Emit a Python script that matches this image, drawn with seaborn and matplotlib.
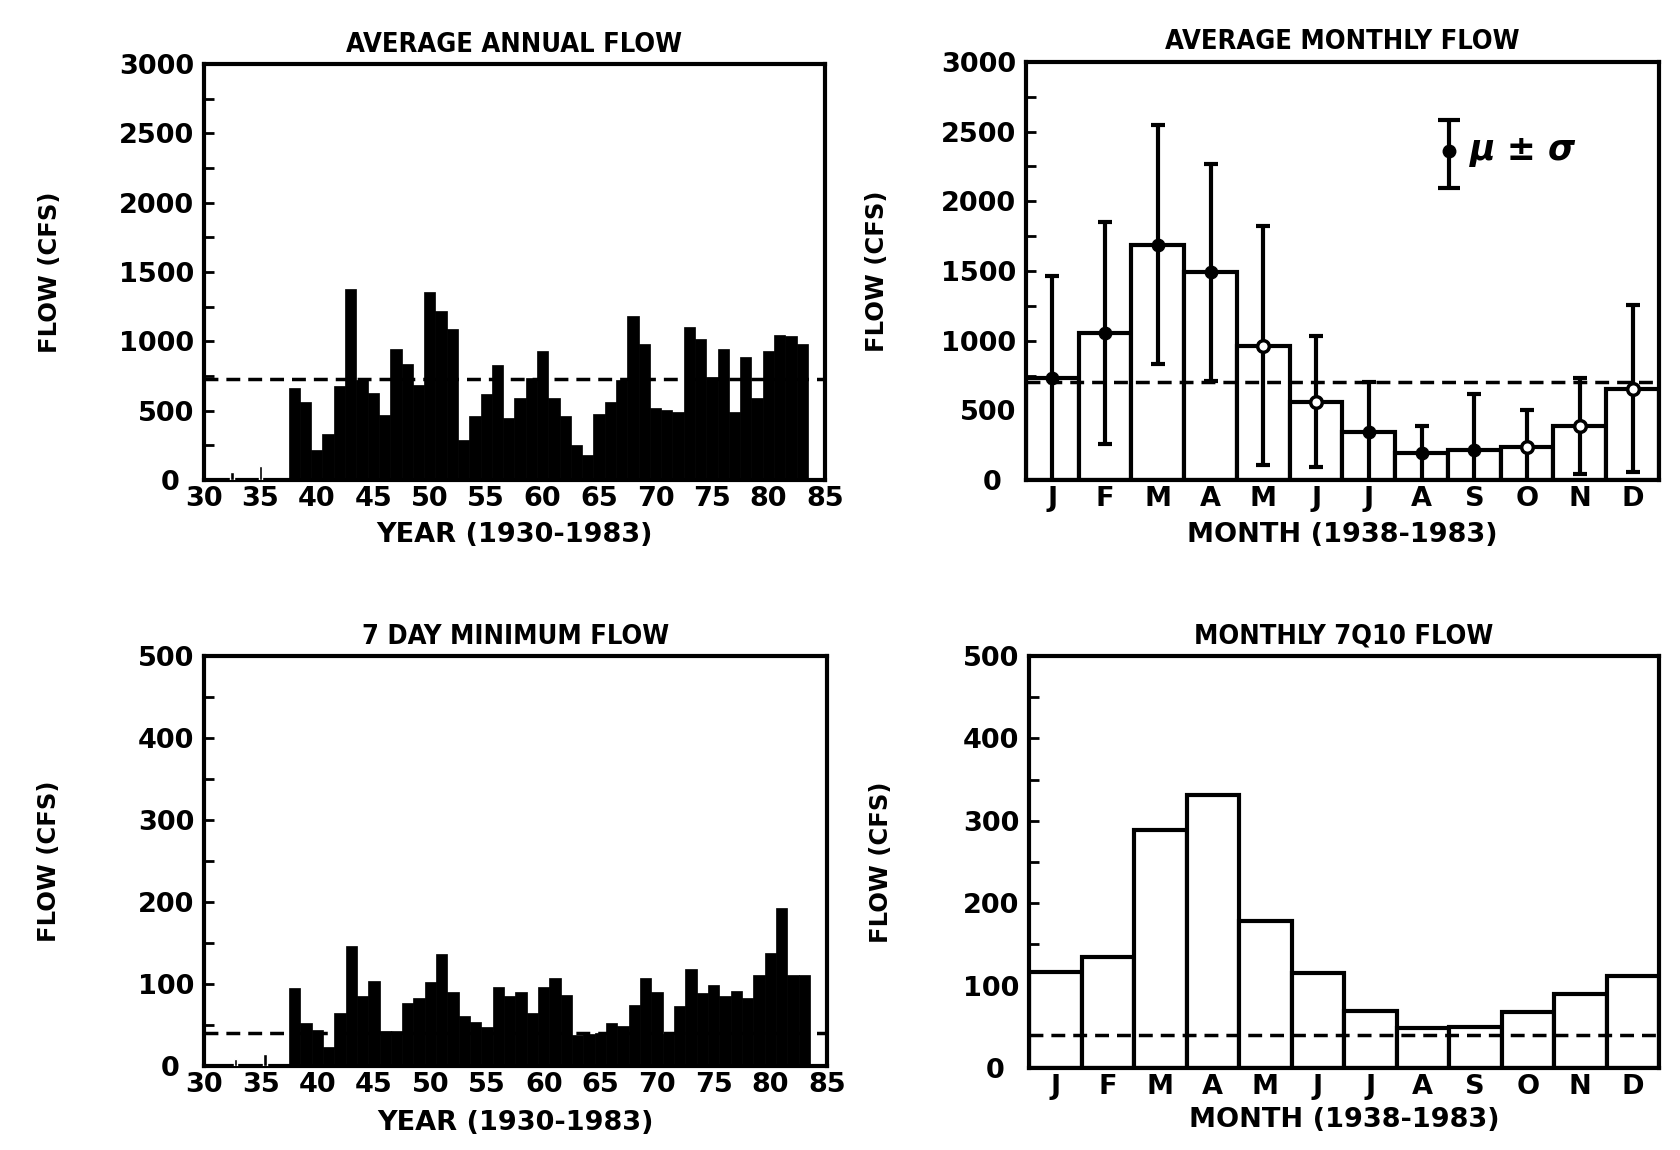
import numpy as np
import pandas as pd
import matplotlib
matplotlib.use("Agg")
import matplotlib.pyplot as plt
import matplotlib.transforms as mtransforms
import seaborn as sns
from matplotlib.ticker import MultipleLocator

# ---------------- data ----------------
years = list(range(38, 84))  # 1938-1983, two-digit years
annual_flow = [667, 566, 214, 335, 675, 1379, 723, 626, 468, 947,
               837, 682, 1354, 1221, 1087, 286, 464, 619, 828, 449,
               590, 735, 930, 590, 464, 255, 182, 473, 566, 723,
               1184, 983, 517, 505, 488, 1100, 1019, 740, 947, 488,
               886, 590, 930, 1046, 1036, 978]
annual_mean = 725
annual_early_years = [32.5, 35.0]
annual_early_flow = [55, 100]

min7_flow = [95, 53, 44, 23, 65, 147, 85, 104, 43, 43,
             77, 83, 103, 137, 90, 61, 54, 48, 97, 85,
             90, 65, 96, 107, 87, 38, 39, 40, 53, 49,
             75, 107, 90, 39, 73, 118, 89, 99, 85, 92,
             83, 111, 138, 193, 111, 111]
min7_mean = 40
min7_early_years = [32.8, 35.4]
min7_early_flow = [8, 15]

year_ticks = [30, 35, 40, 45, 50, 55, 60, 65, 70, 75, 80, 85]

month_names = ["Jan", "Feb", "Mar", "Apr", "May", "Jun",
               "Jul", "Aug", "Sep", "Oct", "Nov", "Dec"]
month_letters = ["J", "F", "M", "A", "M", "J", "J", "A", "S", "O", "N", "D"]
monthly_mean = [730, 1055, 1690, 1490, 965, 560, 345, 192, 215, 235, 385, 655]
monthly_sd = [735, 797, 860, 780, 855, 470, 355, 197, 400, 265, 345, 600]
monthly_filled = [True, True, True, True, False, False, True, True, True, False, False, False]
monthly_overall = 705

q710 = [117, 135, 289, 331, 178, 115, 69, 49, 50, 68, 90, 112]
q710_line = 40

# ---------------- style ----------------
sns.set_theme(style="white")
plt.rcParams['font.family'] = ['DejaVu Sans']
plt.rcParams['font.weight'] = 'bold'
plt.rcParams['text.color'] = 'black'
plt.rcParams['axes.labelcolor'] = 'black'
plt.rcParams['xtick.color'] = 'black'
plt.rcParams['ytick.color'] = 'black'

fig = plt.figure(figsize=(16.8, 11.5), dpi=100)
ax_tl = fig.add_axes([0.1214, 0.5826, 0.3696, 0.3617])
ax_tr = fig.add_axes([0.6107, 0.5826, 0.3768, 0.3635])
ax_bl = fig.add_axes([0.1214, 0.0730, 0.3708, 0.3565])
ax_br = fig.add_axes([0.6125, 0.0713, 0.3750, 0.3583])

DASH = (0, (4, 2.3))
TICK_FS = 19.5


def style_axes(ax, ymax, major, minor, title, xlabel, ylab_x, xlab_y):
    ax.set_ylim(0, ymax)
    ax.yaxis.set_major_locator(MultipleLocator(major))
    ax.yaxis.set_minor_locator(MultipleLocator(minor))
    ax.tick_params(axis='y', which='both', direction='in', length=7, width=2,
                   left=True, right=False, labelsize=TICK_FS, pad=7, colors='black')
    ax.tick_params(axis='x', which='both', length=0, labelsize=TICK_FS, pad=4,
                   colors='black')
    for s in ax.spines.values():
        s.set_visible(True)
        s.set_linewidth(3)
        s.set_color('black')
    ax.set_title(title, fontsize=19.5, fontweight='bold', fontstretch='condensed',
                 pad=9, color='black')
    ax.set_xlabel(xlabel, fontsize=19.5, fontweight='bold')
    ax.set_ylabel('FLOW (CFS)', fontsize=17.5, fontweight='bold')
    ax.yaxis.set_label_coords(ylab_x, 0.5)
    ax.xaxis.set_label_coords(0.5, xlab_y)
    ax.grid(False)
    # the zero label sits a little further left, as in the original plot
    locs = np.asarray(ax.yaxis.get_majorticklocs())
    ticks = ax.yaxis.get_major_ticks(len(locs))
    zero = ticks[int(np.argmin(np.abs(locs)))].label1
    zero.set_transform(zero.get_transform() +
                       mtransforms.ScaledTranslation(-15 / 100, 0, fig.dpi_scale_trans))


# ---- top-left: average annual flow ----
df_a = pd.DataFrame({'year': years, 'flow': annual_flow})
ax_tl.axhline(annual_mean, color='black', ls=DASH, lw=2.5, zorder=1)
sns.barplot(data=df_a, x='year', y='flow', native_scale=True, width=1.0,
            color='black', edgecolor='black', linewidth=0.5, saturation=1,
            errorbar=None, ax=ax_tl, zorder=3)
ax_tl.bar(annual_early_years, annual_early_flow, width=0.3, color='black', zorder=3)
ax_tl.set_xlim(30, 85)
ax_tl.set_xticks(year_ticks)
ax_tl.set_xticklabels([str(t) for t in year_ticks])
style_axes(ax_tl, 3000, 500, 250, 'AVERAGE ANNUAL FLOW', 'YEAR (1930-1983)', -0.229, -0.10)

# ---- bottom-left: 7 day minimum flow ----
df_m = pd.DataFrame({'year': years, 'flow': min7_flow})
ax_bl.axhline(min7_mean, color='black', ls=DASH, lw=2.5, zorder=1)
sns.barplot(data=df_m, x='year', y='flow', native_scale=True, width=1.0,
            color='black', edgecolor='black', linewidth=0.5, saturation=1,
            errorbar=None, ax=ax_bl, zorder=3)
ax_bl.bar(min7_early_years, min7_early_flow, width=0.3, color='black', zorder=3)
ax_bl.set_xlim(30, 85)
ax_bl.set_xticks(year_ticks)
ax_bl.set_xticklabels([str(t) for t in year_ticks])
style_axes(ax_bl, 500, 100, 50, '7 DAY MINIMUM FLOW', 'YEAR (1930-1983)', -0.229, -0.107)

# ---- top-right: average monthly flow ----
df_mm = pd.DataFrame({'month': month_names, 'flow': monthly_mean})
sns.barplot(data=df_mm, x='month', y='flow', order=month_names, width=1.0,
            color='white', edgecolor='black', linewidth=3, saturation=1,
            errorbar=None, ax=ax_tr, zorder=2)
ax_tr.axhline(monthly_overall, color='black', ls=DASH, lw=2.5, zorder=3)
xm = np.arange(len(month_names))
ax_tr.errorbar(xm, monthly_mean, yerr=monthly_sd, fmt='none', ecolor='black',
               elinewidth=3, capsize=5, capthick=3, zorder=4)
filled = np.array(monthly_filled)
mm = np.array(monthly_mean)
ax_tr.scatter(xm[filled], mm[filled], s=80, color='black', zorder=5)
ax_tr.scatter(xm[~filled], mm[~filled], s=70, facecolor='white', edgecolor='black',
              linewidth=2.5, zorder=5)
# legend glyph
ax_tr.errorbar([7.52], [2361], yerr=[[262], [223]], fmt='o', color='black', ms=9,
               elinewidth=3, capsize=8, capthick=3, zorder=6)
ax_tr.text(7.92, 2370, 'μ ± σ', fontsize=25, fontstyle='italic', fontweight='bold',
           va='center', ha='left', color='black')
ax_tr.set_xlim(-0.5, 11.5)
ax_tr.set_xticks(xm)
ax_tr.set_xticklabels(month_letters)
style_axes(ax_tr, 3000, 500, 250, 'AVERAGE MONTHLY FLOW', 'MONTH (1938-1983)', -0.216, -0.10)

# ---- bottom-right: monthly 7Q10 flow ----
df_q = pd.DataFrame({'month': month_names, 'flow': q710})
sns.barplot(data=df_q, x='month', y='flow', order=month_names, width=1.0,
            color='white', edgecolor='black', linewidth=3, saturation=1,
            errorbar=None, ax=ax_br, zorder=2)
ax_br.axhline(q710_line, color='black', ls=DASH, lw=2.5, zorder=3)
ax_br.set_xlim(-0.5, 11.5)
ax_br.set_xticks(xm)
ax_br.set_xticklabels(month_letters)
style_axes(ax_br, 500, 100, 50, 'MONTHLY 7Q10 FLOW', 'MONTH (1938-1983)', -0.216, -0.095)

fig.savefig('out.png', dpi=100, facecolor='white')
